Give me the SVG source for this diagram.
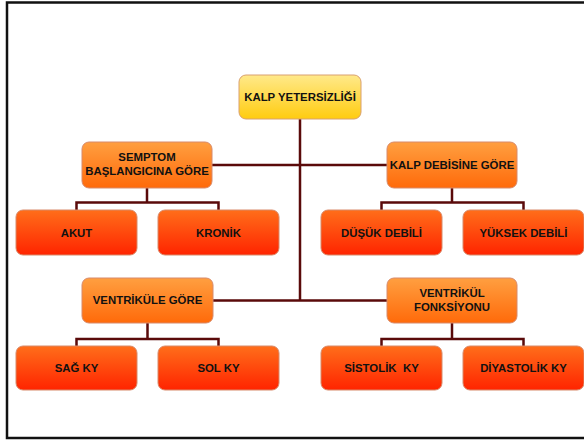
<svg xmlns="http://www.w3.org/2000/svg" width="584" height="441" viewBox="0 0 584 441">
<defs>
<linearGradient id="gTop" x1="0" y1="0" x2="0" y2="1"><stop offset="0" stop-color="#ffe98a"/><stop offset="1" stop-color="#ffcc10"/></linearGradient>
<linearGradient id="gMid" x1="0" y1="0" x2="0" y2="1"><stop offset="0" stop-color="#ff9f40"/><stop offset="1" stop-color="#ff6a0a"/></linearGradient>
<linearGradient id="gLeaf" x1="0" y1="0" x2="0" y2="1"><stop offset="0" stop-color="#ff6e1a"/><stop offset="1" stop-color="#ff2400"/></linearGradient>
</defs>
<style>
.box{stroke:#d88a6a;stroke-width:1}
.top{fill:url(#gTop);stroke:#d9a070}
.mid{fill:url(#gMid)}
.leaf{fill:url(#gLeaf)}
text{font-family:"Liberation Sans",Arial,sans-serif;font-weight:bold;font-size:11.4px;fill:#111;text-anchor:middle}
.c{fill:none;stroke:#5a0a0a;stroke-width:2.5}
</style>
<rect x="0" y="0" width="584" height="441" fill="#fff"/>
<rect x="7" y="2.5" width="600" height="435.5" fill="none" stroke="#111" stroke-width="2.5"/>
<g id="connectors">
<path class="c" d="M300,119V301M212,165H387M213,300.5H387"/>
<path class="c" d="M147,188V202.5M76.5,210V202.5H218.5V210"/>
<path class="c" d="M452,188V202.5M381.5,210V202.5H523.5V210"/>
<path class="c" d="M147.5,323V339M76.5,346V339H218.5V346"/>
<path class="c" d="M452,323V339M381.5,346V339H523.5V346"/>
</g>
<g id="n-root"><rect class="box top" x="239" y="75" width="122" height="44" rx="7"/><text x="300" y="101">KALP YETERSİZLİĞİ</text></g>
<g id="n-semptom"><rect class="box mid" x="82" y="142" width="130" height="46" rx="7"/><text x="147" y="161">SEMPTOM</text><text x="147" y="174.5">BAŞLANGICINA GÖRE</text></g>
<g id="n-debi"><rect class="box mid" x="387" y="142" width="130" height="46" rx="7"/><text x="452" y="168.5">KALP DEBİSİNE GÖRE</text></g>
<g id="n-akut"><rect class="box leaf" x="16" y="210" width="121" height="45" rx="7"/><text x="76.5" y="237">AKUT</text></g>
<g id="n-kronik"><rect class="box leaf" x="158" y="210" width="121" height="45" rx="7"/><text x="218.5" y="237">KRONİK</text></g>
<g id="n-dusuk"><rect class="box leaf" x="321" y="210" width="121" height="45" rx="7"/><text x="381.5" y="237">DÜŞÜK DEBİLİ</text></g>
<g id="n-yuksek"><rect class="box leaf" x="463" y="210" width="121" height="45" rx="7"/><text x="523.5" y="237">YÜKSEK DEBİLİ</text></g>
<g id="n-ventrikule"><rect class="box mid" x="82" y="278" width="131" height="45" rx="7"/><text x="147.5" y="304">VENTRİKÜLE GÖRE</text></g>
<g id="n-fonksiyon"><rect class="box mid" x="387" y="278" width="130" height="45" rx="7"/><text x="452" y="297">VENTRİKÜL</text><text x="452" y="310.5">FONKSİYONU</text></g>
<g id="n-sag"><rect class="box leaf" x="16" y="346" width="121" height="44" rx="7"/><text x="76.5" y="372">SAĞ KY</text></g>
<g id="n-sol"><rect class="box leaf" x="158" y="346" width="121" height="44" rx="7"/><text x="218.5" y="372">SOL KY</text></g>
<g id="n-sistolik"><rect class="box leaf" x="321" y="346" width="121" height="44" rx="7"/><text x="381.5" y="372" xml:space="preserve">SİSTOLİK  KY</text></g>
<g id="n-diyastolik"><rect class="box leaf" x="463" y="346" width="121" height="44" rx="7"/><text x="523.5" y="372">DİYASTOLİK KY</text></g>
</svg>
